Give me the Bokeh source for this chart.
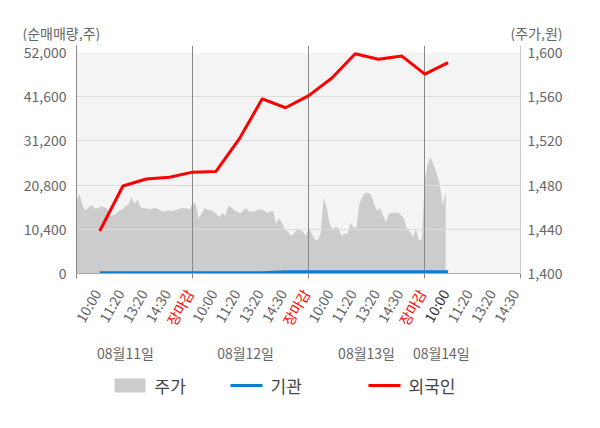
import math
from bokeh.plotting import figure
from bokeh.models import Range1d, LinearAxis, FixedTicker, NumeralTickFormatter, BoxAnnotation
from bokeh.layouts import column, row
from bokeh.embed import file_html
from bokeh.resources import INLINE
from bokeh.core.properties import value

FONT = "Noto Sans CJK KR"

# ---- data ----
slot_labels = ["10:00", "11:20", "13:20", "14:30", "장마감",
               "10:00", "11:20", "13:20", "14:30", "장마감",
               "10:00", "11:20", "13:20", "14:30", "장마감",
               "10:00", "11:20", "13:20", "14:30"]
day_labels = ["08월11일", "08월12일", "08월13일", "08월14일"]
day_label_pos = [2.11, 7.28, 12.49, 15.71]

foreign = [10000, 20600, 22250, 22650, 23850, 24000, 31600, 41100,
           39000, 41850, 46000, 51700, 50400, 51200, 46900, 49600]
institution = [150, 150, 150, 150, 150, 150, 150, 150,
               400, 400, 400, 400, 400, 400, 400, 400]

price_day1 = [1466, 1472, 1461, 1457, 1460, 1462, 1459, 1459, 1461, 1460,
              1459, 1452, 1453, 1454, 1457, 1458, 1461, 1462, 1469, 1463,
              1467, 1460, 1459, 1459, 1458, 1459, 1459, 1458, 1456, 1456,
              1457, 1457, 1457, 1458, 1459, 1459, 1459, 1458]
price_day2 = [1464, 1463, 1450, 1454, 1459, 1458, 1457, 1456, 1454, 1451,
              1455, 1452, 1461, 1460, 1457, 1456, 1454, 1457, 1459, 1456,
              1456, 1456, 1458, 1458, 1457, 1455, 1456, 1457, 1445, 1450,
              1446, 1440, 1438, 1434, 1436, 1440, 1439, 1438, 1434]
price_day3 = [1442, 1436, 1431, 1430, 1436, 1468, 1460, 1445, 1440, 1442,
              1441, 1434, 1436, 1436, 1446, 1442, 1441, 1463, 1469, 1473,
              1473, 1471, 1462, 1457, 1459, 1452, 1447, 1454, 1455, 1455,
              1455, 1453, 1450, 1440, 1438, 1433, 1440, 1430, 1431]
price_day4 = [1484, 1500, 1505, 1498, 1490, 1481, 1462, 1473]

vol_ticks = [0, 10400, 20800, 31200, 41600, 52000]
price_ticks = [1400, 1440, 1480, 1520, 1560, 1600]
day_bounds = [5, 10, 15]

# ---- layout constants ----
W = 592
LEFT, RIGHT = 76, 72
FRAME_W, FRAME_H = 444, 228
HEAD_H, TOP_B, AX_H, BOT_H, LEG_H = 41, 4, 12, 80, 45
X_END = 19.12
VOL_TOP = 53650
PRICE_TOP = 1606.3
K = FRAME_W / X_END  # px per slot

# ---- derived positions ----
slots = list(range(1, len(foreign) + 1))
px, py = [], []
for d, day in enumerate([price_day1, price_day2, price_day3, price_day4]):
    step = 5.0 / (38 if d == 0 else 39)
    for i, v in enumerate(day):
        px.append(5 * d + i * step)
        py.append(v)

def blank_fig(h, xr, yr):
    f = figure(width=W, height=h, output_backend="svg", toolbar_location=None,
               x_range=xr, y_range=yr, x_axis_type=None, y_axis_type=None,
               min_border_left=0, min_border_right=0, min_border_top=0, min_border_bottom=0,
               outline_line_color=None)
    f.xgrid.visible = False
    f.ygrid.visible = False
    return f

# ---- header ----
head = blank_fig(HEAD_H, Range1d(0, W), Range1d(HEAD_H, 0))
head.text(x=[22, 510], y=[32, 32], text=["(순매매량,주)", "(주가,원)"],
          text_font=value(FONT), text_font_size="14px", text_color="#666666",
          text_baseline="middle", text_align="left")

# ---- main chart ----
p = figure(frame_width=FRAME_W, frame_height=FRAME_H, output_backend="svg", toolbar_location=None,
           x_range=Range1d(0, X_END), y_range=Range1d(0, VOL_TOP),
           min_border_left=LEFT, min_border_right=RIGHT, min_border_top=TOP_B, min_border_bottom=AX_H,
           outline_line_color=None, background_fill_color="white", border_fill_color="white")
p.extra_y_ranges = {"price": Range1d(price_ticks[0], PRICE_TOP)}
p.xgrid.visible = False
p.ygrid.visible = False

p.add_layout(BoxAnnotation(bottom=0, top=vol_ticks[-1], fill_color="#f4f4f4", fill_alpha=1.0,
                           line_color=None, level="underlay"))

p.varea(x=px, y1=price_ticks[0], y2=py, fill_color="#cccccc", y_range_name="price")
p.hspan(y=vol_ticks[1:-1], line_color="#dddddd", line_width=1)
p.vspan(x=day_bounds, line_color="#888888", line_width=1)
p.line(slots, institution, line_color="#0b7fcf", line_width=3)
p.line(slots, foreign, line_color="#ff0000", line_width=3)

yax = p.yaxis[0]
yax.ticker = FixedTicker(ticks=vol_ticks)
yax.formatter = NumeralTickFormatter(format="0,0")
yax.axis_line_color = "#888888"
yax.major_tick_out = 0
yax.major_tick_in = 0
yax.minor_tick_line_color = None
yax.major_label_text_font = FONT
yax.major_label_text_font_size = "14px"
yax.major_label_text_color = "#666666"
yax.major_label_standoff = 10

rax = LinearAxis(y_range_name="price", ticker=FixedTicker(ticks=price_ticks),
                 formatter=NumeralTickFormatter(format="0,0"))
rax.axis_line_color = "#cccccc"
rax.major_tick_out = 0
rax.major_tick_in = 0
rax.minor_tick_line_color = None
rax.major_label_text_font = FONT
rax.major_label_text_font_size = "14px"
rax.major_label_text_color = "#666666"
rax.major_label_standoff = 7
p.add_layout(rax, "right")

xax = p.xaxis[0]
xax.ticker = FixedTicker(ticks=[0] + day_bounds + [X_END])
xax.major_label_overrides = {t: "" for t in [0] + day_bounds + [X_END]}
xax.major_label_text_font_size = "0px"
xax.major_label_standoff = 0
xax.axis_line_color = "#aaaaaa"
xax.major_tick_out = 5
xax.major_tick_in = 0
xax.major_tick_line_color = "#888888"
xax.minor_tick_line_color = None

# ---- time labels + dates (same slot scale as the chart) ----
bot = blank_fig(BOT_H, Range1d(-LEFT / K, X_END + RIGHT / K), Range1d(BOT_H, 0))
lab_cols = []
for i, lab in enumerate(slot_labels):
    if lab == "장마감":
        lab_cols.append("#ff0000")
    elif i + 1 == 16:
        lab_cols.append("#333333")
    else:
        lab_cols.append("#666666")
bot.text(x=list(range(1, len(slot_labels) + 1)), y=[17 - AX_H] * len(slot_labels),
         text=slot_labels, text_color=lab_cols, angle=math.pi / 3, x_offset=-3,
         text_font=value(FONT), text_font_size="14px",
         text_align="right", text_baseline="middle")
bot.text(x=day_label_pos, y=[79 - AX_H] * len(day_labels), text=day_labels,
         text_font=value(FONT), text_font_size="14px", text_color="#666666",
         text_align="center", text_baseline="middle")

# ---- legend strip ----
legend_names = ["주가", "기관", "외국인"]
legend_colors = ["#cccccc", "#0b7fcf", "#ff0000"]
legend_x = [114, 230, 368]
leg = blank_fig(LEG_H, Range1d(0, W), Range1d(LEG_H, 0))
leg.quad(left=[legend_x[0]], right=[legend_x[0] + 31], top=[13], bottom=[27],
         fill_color=legend_colors[0], line_color=None)
leg.segment(x0=legend_x[1:], x1=[x + 32 for x in legend_x[1:]], y0=[20, 20], y1=[20, 20],
            line_color=legend_colors[1:], line_width=3)
leg.text(x=[x + 40 for x in legend_x], y=[20, 20, 20], text=legend_names,
         text_font=value(FONT), text_font_size="17px", text_color="#444444",
         text_baseline="middle", text_align="left")

layout = column(row(head), row(p), row(bot), row(leg), spacing=0)
open("out.html", "w").write(file_html(layout, INLINE))
